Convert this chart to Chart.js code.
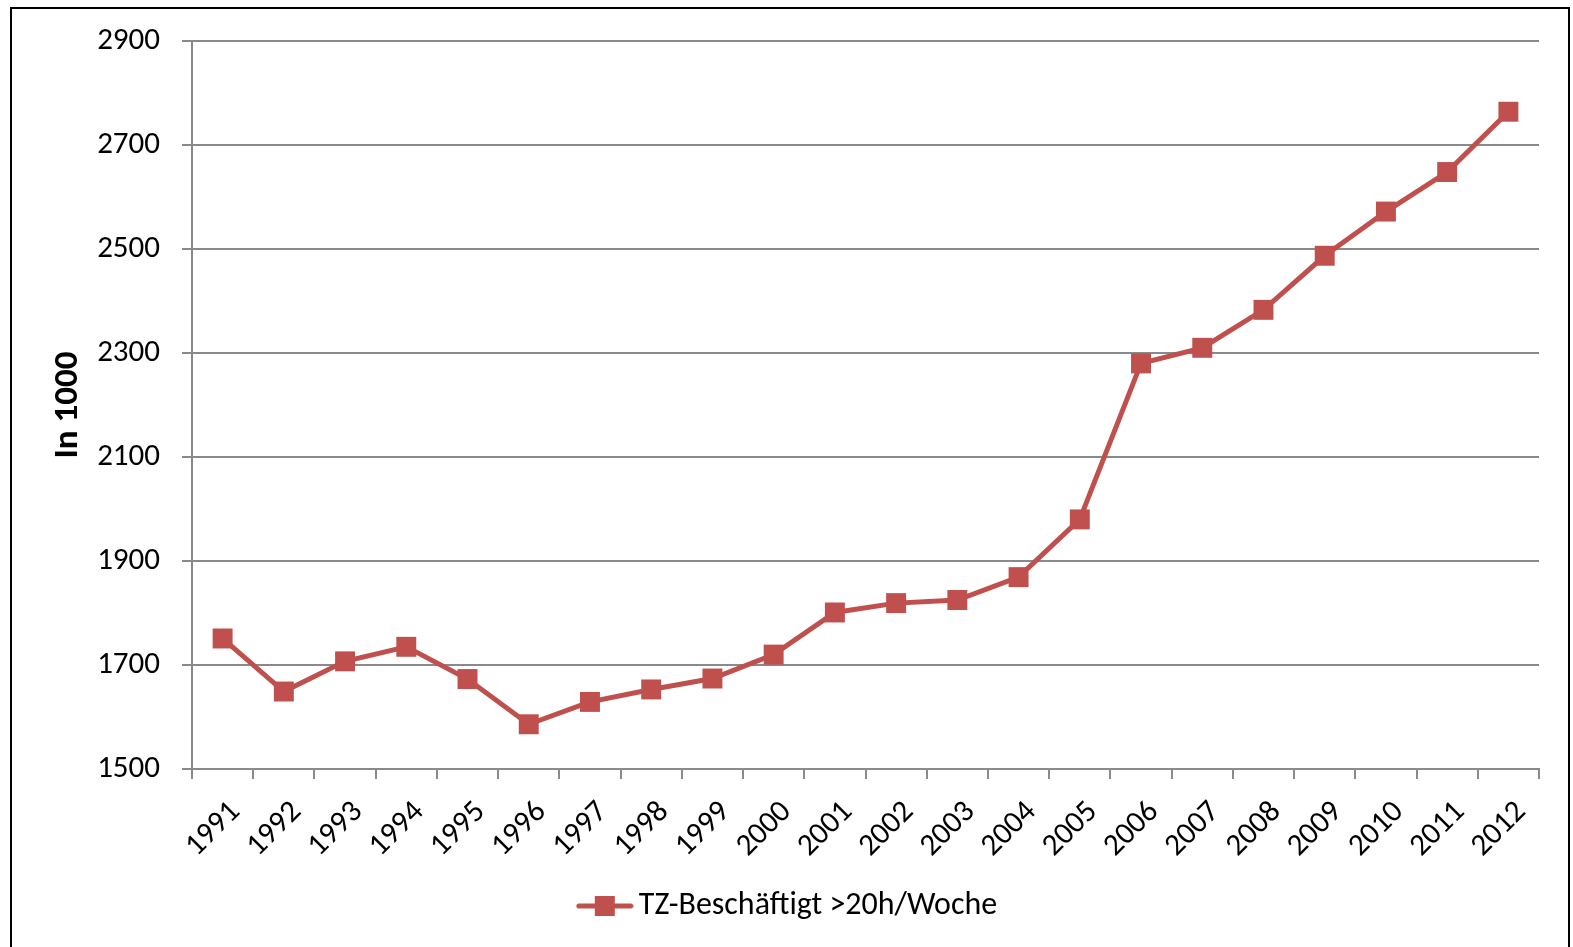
<!DOCTYPE html>
<html>
<head>
<meta charset="utf-8">
<script src="https://cdn.jsdelivr.net/npm/chart.js@4/dist/chart.umd.min.js"></script>
<style>
html,body{margin:0;padding:0;background:#fff;overflow:hidden;width:1573px;height:947px;}
#frame{position:absolute;left:10px;top:7px;width:1560px;height:1000px;border:2px solid #000;box-sizing:border-box;}
#wrap{position:absolute;left:0;top:0;width:1573px;height:947px;}
</style>
</head>
<body>
<div id="frame"></div>
<div id="wrap"><canvas id="c" width="1573" height="947"></canvas></div>
<script>
// ---- data ----
const years = ['1991','1992','1993','1994','1995','1996','1997','1998','1999','2000','2001','2002','2003','2004','2005','2006','2007','2008','2009','2010','2011','2012'];
const employed = [1751, 1649, 1707, 1735, 1673, 1586, 1629, 1653, 1674, 1720, 1801, 1819, 1825, 1869, 1980, 2280, 2310, 2383, 2487, 2572, 2648, 2764];
const yTickValues = [1500, 1700, 1900, 2100, 2300, 2500, 2700, 2900];
const seriesLabel = 'TZ-Beschäftigt >20h/Woche';
const yTitle = 'In 1000';

// ---- style ----
const RED = '#C0504D';
const GRID = '#8a8a8a';
const FONT = 'Carlito, Lato, sans-serif';

function legendSymbol() {
  const c = document.createElement('canvas');
  c.width = 58; c.height = 22;
  const g = c.getContext('2d');
  g.strokeStyle = RED; g.lineWidth = 5; g.lineCap = 'round';
  g.beginPath(); g.moveTo(3, 11); g.lineTo(55, 11); g.stroke();
  g.fillStyle = RED; g.fillRect(19, 1, 20, 20);
  return c;
}

function build() {
  const sym = legendSymbol();
  const ctx = document.getElementById('c').getContext('2d');
  new Chart(ctx, {
    type: 'line',
    data: {
      labels: years,
      datasets: [{
        label: seriesLabel,
        data: employed,
        borderColor: RED,
        backgroundColor: RED,
        borderWidth: 5,
        pointStyle: 'rect',
        pointRadius: 14.1,
        pointHoverRadius: 14.1,
        pointBackgroundColor: RED,
        pointBorderColor: RED,
        pointBorderWidth: 0,
        tension: 0
      }]
    },
    options: {
      responsive: false,
      animation: false,
      devicePixelRatio: 1,
      layout: { padding: { left: 45, right: 34, top: 41, bottom: 15 } },
      plugins: {
        tooltip: { enabled: false },
        legend: {
          position: 'bottom',
          labels: {
            usePointStyle: true,
            pointStyleWidth: 36,
            padding: 10,
            color: '#000',
            font: { family: FONT, size: 32 },
            generateLabels(chart) {
              const items = Chart.defaults.plugins.legend.labels.generateLabels(chart);
              items.forEach(i => { i.pointStyle = sym; });
              return items;
            }
          }
        }
      },
      scales: {
        x: {
          type: 'category',
          offset: true,
          grid: { display: true, offset: true, drawOnChartArea: false, drawTicks: true, tickLength: 10, color: GRID, lineWidth: 2 },
          border: { display: true, color: GRID, width: 2 },
          ticks: { autoSkip: false, minRotation: 45, maxRotation: 45, padding: 15, labelOffset: 13, color: '#000', font: { family: FONT, size: 31 } },
          afterFit(s) { s.height = s.chart.height - 15 - s.chart.legend.height - 769; }
        },
        y: {
          min: 1500,
          max: 2900,
          afterBuildTicks(s) { s.ticks = yTickValues.map(v => ({ value: v })); },
          ticks: { padding: 22, color: '#000', font: { family: FONT, size: 31 }, callback: v => String(v) },
          grid: { color: GRID, lineWidth: 2, tickLength: 10, drawTicks: true },
          border: { display: true, color: GRID, width: 2 },
          title: { display: true, text: yTitle, color: '#000', font: { family: FONT, size: 35, weight: 'bold' }, padding: { top: 2, bottom: 0 } },
          afterFit(s) { s.width = 147; }
        }
      }
    }
  });
}

let done = false;
function go() { if (!done) { done = true; build(); } }
Promise.all([
  document.fonts.load('31px Carlito'),
  document.fonts.load('bold 35px Carlito')
]).then(go, go);
setTimeout(go, 1500);
</script>
</body>
</html>
